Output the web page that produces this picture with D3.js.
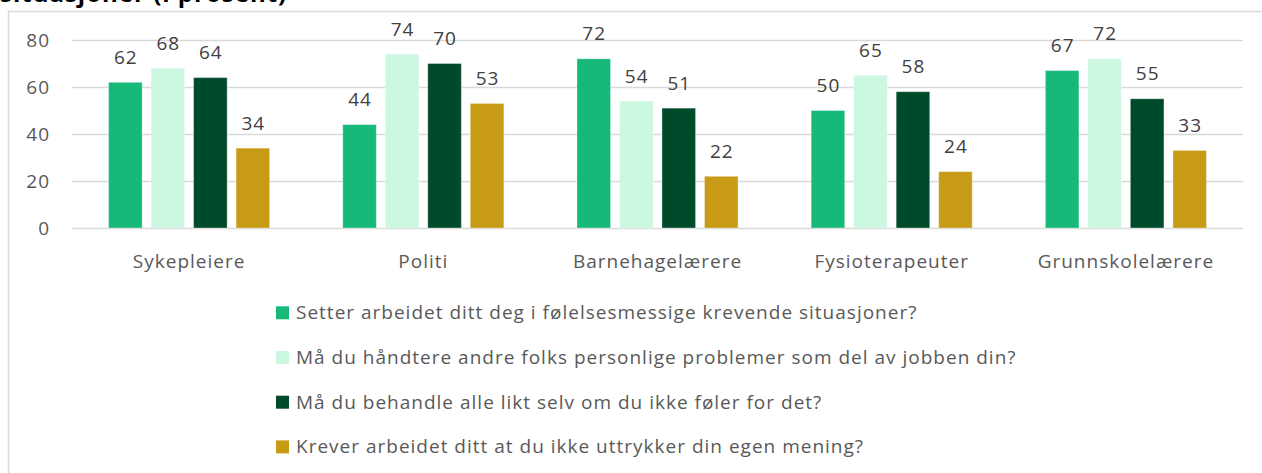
<!DOCTYPE html>
<html>
<head>
<meta charset="utf-8">
<script src="https://cdn.jsdelivr.net/npm/d3@7/dist/d3.min.js"></script>
<style>
  html, body { margin: 0; padding: 0; background: #ffffff; }
  svg { display: block; }
  text { font-family: "Open Sans", sans-serif; }
</style>
</head>
<body>
<svg id="chart" width="1262" height="473"></svg>
<script>
const titleText = "situasjoner (i prosent)";
const categories = ["Sykepleiere", "Politi", "Barnehagelærere", "Fysioterapeuter", "Grunnskolelærere"];
const seriesNames = [
  "Setter arbeidet ditt deg i følelsesmessige krevende situasjoner?",
  "Må du håndtere andre folks personlige problemer som del av jobben din?",
  "Må du behandle alle likt selv om du ikke føler for det?",
  "Krever arbeidet ditt at du ikke uttrykker din egen mening?"
];
const series1 = [62, 44, 72, 50, 67];
const series2 = [68, 74, 54, 65, 72];
const series3 = [64, 70, 51, 58, 55];
const series4 = [34, 53, 22, 24, 33];
const yTicks = [0, 20, 40, 60, 80];
const colors = ["#17B978", "#CCF7E1", "#004A2C", "#C89B17"];

const seriesValues = [series1, series2, series3, series4];
const data = categories.map((c, i) => ({
  category: c,
  values: seriesNames.map((s, j) => ({ series: s, idx: j, value: seriesValues[j][i] }))
}));

const FS = 19, LS = "1px";
const svg = d3.select("#chart");

// chart border
svg.append("rect")
  .attr("x", 8.5).attr("y", 11.5)
  .attr("width", 1300).attr("height", 500)
  .attr("fill", "none").attr("stroke", "#d9d9d9").attr("stroke-width", 1.5);

// cut-off title
svg.append("text")
  .attr("x", 0).attr("y", 2)
  .attr("font-size", 24).attr("font-weight", "bold")
  .attr("letter-spacing", "1px")
  .attr("fill", "#000000")
  .text(titleText);

const plotLeft = 72, plotRight = 1243, plotTop = 40, plotBottom = 228;

const x0 = d3.scaleBand().domain(categories).range([plotLeft, plotRight]).paddingInner(0).paddingOuter(0);
const x1 = d3.scaleBand().domain(d3.range(seriesNames.length))
  .range([0, x0.bandwidth()]).paddingInner(0.21).paddingOuter(0.86);
const y = d3.scaleLinear().domain([0, 80]).range([plotBottom, plotTop]);

// y axis with gridlines
const yAxis = svg.append("g")
  .attr("transform", `translate(${plotLeft},0)`)
  .call(d3.axisLeft(y).tickValues(yTicks).tickSize(-(plotRight - plotLeft)).tickPadding(22));
yAxis.select(".domain").remove();
yAxis.selectAll(".tick line").attr("stroke", "#d9d9d9").attr("stroke-width", 1.3);
yAxis.selectAll(".tick text")
  .attr("font-size", FS).attr("fill", "#595959")
  .attr("letter-spacing", LS)
  .attr("font-family", "'Open Sans', sans-serif")
  .attr("dy", "0.36em");

// x axis
const xAxis = svg.append("g")
  .attr("transform", `translate(0,${plotBottom})`)
  .call(d3.axisBottom(x0).tickSize(0).tickPadding(26.5));
xAxis.select(".domain").remove();
xAxis.selectAll(".tick text")
  .attr("font-size", FS).attr("fill", "#595959")
  .attr("letter-spacing", LS)
  .attr("font-family", "'Open Sans', sans-serif");

// bars
const groups = svg.append("g").selectAll("g")
  .data(data).join("g")
  .attr("transform", d => `translate(${x0(d.category)},0)`);

groups.selectAll("rect")
  .data(d => d.values).join("rect")
  .attr("x", d => x1(d.idx))
  .attr("y", d => y(d.value))
  .attr("width", x1.bandwidth())
  .attr("height", d => y(0) - y(d.value))
  .attr("fill", d => colors[d.idx])
  .attr("stroke", "#ffffff").attr("stroke-opacity", 0.35).attr("stroke-width", 1);

groups.selectAll("text.lbl")
  .data(d => d.values).join("text")
  .attr("class", "lbl")
  .attr("x", d => x1(d.idx) + x1.bandwidth() / 2 + 0.5)
  .attr("y", d => y(d.value) - 18.5)
  .attr("text-anchor", "middle")
  .attr("font-size", FS).attr("fill", "#404040")
  .attr("letter-spacing", LS)
  .text(d => d.value);

// legend
const legend = svg.append("g").attr("transform", "translate(276,0)");
const legendItems = legend.selectAll("g")
  .data(seriesNames).join("g")
  .attr("transform", (d, i) => `translate(0,${319.3 + i * 44.7})`);
legendItems.append("rect")
  .attr("x", 0).attr("y", -13).attr("width", 13).attr("height", 13)
  .attr("fill", (d, i) => colors[i]);
legendItems.append("text")
  .attr("x", 20).attr("y", 0)
  .attr("font-size", FS).attr("fill", "#595959")
  .attr("letter-spacing", LS)
  .text(d => d);
</script>
</body>
</html>
